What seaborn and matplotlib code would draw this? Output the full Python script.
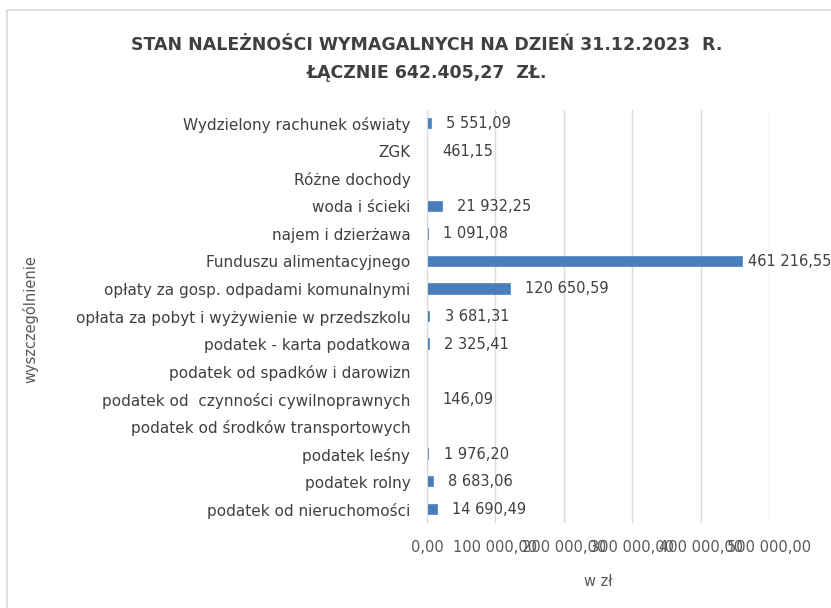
import numpy as np
import pandas as pd
import seaborn as sns
import matplotlib.pyplot as plt
from matplotlib.patches import Rectangle

# Receivables by category (top to bottom as in the chart)
categories = [
    'Wydzielony rachunek oświaty',
    'ZGK',
    'Różne dochody',
    'woda i ścieki',
    'najem i dzierżawa',
    'Funduszu alimentacyjnego',
    'opłaty za gosp. odpadami komunalnymi',
    'opłata za pobyt i wyżywienie w przedszkolu',
    'podatek - karta podatkowa',
    'podatek od spadków i darowizn',
    'podatek od  czynności cywilnoprawnych',
    'podatek od środków transportowych',
    'podatek leśny',
    'podatek rolny',
    'podatek od nieruchomości',
]
values = [5551.09, 461.15, 0, 21932.25, 1091.08, 461216.55, 120650.59,
          3681.31, 2325.41, 0, 146.09, 0, 1976.20, 8683.06, 14690.49]
x_ticks = [0, 100000, 200000, 300000, 400000, 500000]

df = pd.DataFrame({'Kategoria': categories, 'Kwota': values})


def pl_fmt(v):
    s = f'{v:,.2f}'
    return s.replace(',', ' ').replace('.', ',')


sns.set_style('white')
plt.rcParams['font.family'] = ['DejaVu Sans']

fig = plt.figure(figsize=(8.31, 6.08), dpi=100)
ax = fig.add_axes([0.5138, 0.1398, 0.4116, 0.6792])

bar_color = '#4a7ebb'
sns.barplot(data=df, x='Kwota', y='Kategoria', orient='h', color=bar_color,
            width=0.34, linewidth=1.2, edgecolor=bar_color, saturation=1, ax=ax)

# zero-value bars should not show at all
for p in ax.patches:
    if p.get_width() == 0:
        p.set_linewidth(0)

big = max(values)
small_labels = [pl_fmt(v) if 0 < v < big else '' for v in values]
big_labels = [pl_fmt(v) if v == big else '' for v in values]
ax.bar_label(ax.containers[0], labels=small_labels, padding=11, fontsize=10.5,
             color='#404040')
ax.bar_label(ax.containers[0], labels=big_labels, padding=4, fontsize=10.5,
             color='#404040')

ax.set_xlim(0, 500000)
ax.set_ylim(14.5, -0.5)
ax.set_xticks(x_ticks)
ax.set_xticklabels([pl_fmt(t) for t in x_ticks], fontsize=10.5, color='#595959')
ax.tick_params(axis='x', length=0, pad=12)
ax.tick_params(axis='y', length=0, pad=12, labelsize=11, labelcolor='#404040')

ax.grid(axis='x', color='#d9d9d9', linewidth=1)
ax.set_axisbelow(True)
for side in ['top', 'right', 'bottom']:
    ax.spines[side].set_visible(False)
ax.spines['left'].set_color('#d9d9d9')

ax.set_ylabel('')
ax.set_xlabel('w zł', fontsize=10.5, color='#595959', labelpad=14)
fig.text(0.036, 0.475, 'wyszczególnienie', rotation=90, fontsize=10.5,
         color='#595959', ha='center', va='center')

title_font = ['DejaVu Sans']
fig.text(0.514, 0.926, 'STAN NALEŻNOŚCI WYMAGALNYCH NA DZIEŃ 31.12.2023  R.',
         ha='center', va='center', fontsize=12.5, fontweight='bold',
         color='#404040', family=title_font)
fig.text(0.514, 0.880, 'ŁĄCZNIE 642.405,27  ZŁ.',
         ha='center', va='center', fontsize=12.5, fontweight='bold',
         color='#404040', family=title_font)

# chart area border
fig.patches.append(Rectangle((0.009, -0.05), 1.2, 1.033, transform=fig.transFigure,
                             fill=False, edgecolor='#d9d9d9', linewidth=1.2))

fig.savefig('out.png', dpi=100)
